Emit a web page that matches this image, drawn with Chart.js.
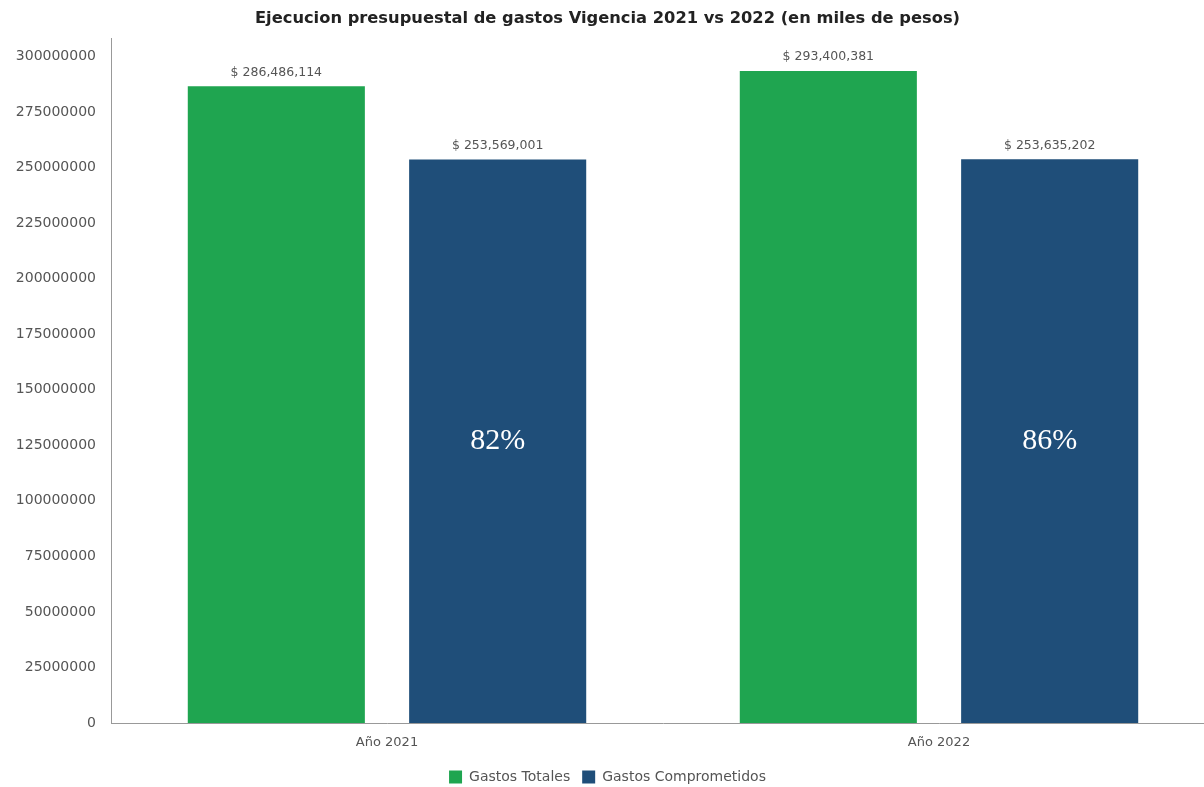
<!DOCTYPE html>
<html>
<head>
<meta charset="utf-8">
<script src="https://cdn.jsdelivr.net/npm/chart.js@4/dist/chart.umd.min.js"></script>
<style>
html,body{margin:0;padding:0;background:#fff;overflow:hidden;}
#wrap{width:1204px;height:787px;position:relative;overflow:hidden;}
</style>
</head>
<body>
<div id="wrap"><canvas id="c" width="1215" height="794"></canvas></div>
<script>
const categories = ["Año 2021", "Año 2022"];
const gastosTotales = [286486114, 293400381];
const gastosComprometidos = [253569001, 253635202];
const percentLabels = ["82%", "86%"];
const yTickValues = [0, 25000000, 50000000, 75000000, 100000000, 125000000, 150000000, 175000000, 200000000, 225000000, 250000000, 275000000, 300000000];
const titleText = "Ejecucion presupuestal de gastos Vigencia 2021 vs 2022 (en miles de pesos)";

const FONT = "'DejaVu Sans'";
const fmt = v => "$ " + v.toLocaleString("en-US");

const labelPlugin = {
  id: "barLabels",
  afterDatasetsDraw(chart) {
    const ctx = chart.ctx;
    ctx.save();
    chart.data.datasets.forEach((ds, di) => {
      const meta = chart.getDatasetMeta(di);
      meta.data.forEach((bar, i) => {
        ctx.font = "12.5px " + FONT;
        ctx.fillStyle = "#555";
        ctx.textAlign = "center";
        ctx.textBaseline = "middle";
        ctx.fillText(fmt(ds.data[i]), bar.x, bar.y - 14);
        if (di === 1) {
          ctx.font = "30px 'Liberation Serif'";
          ctx.fillStyle = "#fff";
          ctx.textBaseline = "middle";
          ctx.fillText(percentLabels[i], bar.x, (bar.y + bar.base) / 2);
        }
      });
    });
    ctx.restore();
  }
};

new Chart(document.getElementById("c"), {
  type: "bar",
  data: {
    labels: categories,
    datasets: [
      { label: "Gastos Totales", data: gastosTotales, backgroundColor: "#1fa550", borderWidth: 0,
        categoryPercentage: 0.802, barPercentage: 0.80 },
      { label: "Gastos Comprometidos", data: gastosComprometidos, backgroundColor: "#1f4e79", borderWidth: 0,
        categoryPercentage: 0.802, barPercentage: 0.80 }
    ]
  },
  options: {
    responsive: false,
    animation: false,
    layout: { padding: 0 },
    plugins: {
      title: {
        display: true, text: titleText, color: "#222",
        font: { family: FONT, size: 16.3, weight: "bold" },
        padding: { top: 9, bottom: 10 }
      },
      legend: {
        position: "bottom",
        labels: { color: "#555", font: { family: FONT, size: 14 }, boxWidth: 13, boxHeight: 13, padding: 12 }
      },
      tooltip: { enabled: false }
    },
    scales: {
      x: {
        grid: { display: false, drawTicks: false },
        border: { color: "#999", width: 1 },
        afterFit: s => { s.height = 35; },
        ticks: { color: "#555", font: { family: FONT, size: 13 }, padding: 12 }
      },
      y: {
        min: 0, max: 308000000,
        grid: { display: false, drawTicks: false },
        border: { color: "#999", width: 1 },
        afterBuildTicks: s => { s.ticks = yTickValues.map(v => ({ value: v })); },
        afterFit: s => { s.width = 111; },
        ticks: { color: "#555", font: { family: FONT, size: 14 }, padding: 15,
          callback: v => String(v) }
      }
    }
  },
  plugins: [labelPlugin]
});
</script>
</body>
</html>
